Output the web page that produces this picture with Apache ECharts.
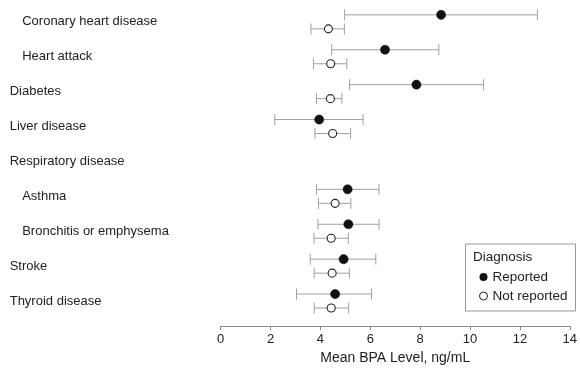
<!DOCTYPE html>
<html>
<head>
<meta charset="utf-8">
<script src="https://cdn.jsdelivr.net/npm/echarts@6/dist/echarts.min.js"></script>
<style>
  html, body { margin: 0; padding: 0; background: #fff; }
  #bpa-chart { width: 580px; height: 370px; }
</style>
</head>
<body>
<div id="bpa-chart"></div>
<script>
// Categories (top to bottom) and whether the label is indented as a sub-item
const categories = ['Coronary heart disease', 'Heart attack', 'Diabetes', 'Liver disease',
    'Respiratory disease', 'Asthma', 'Bronchitis or emphysema', 'Stroke', 'Thyroid disease'];
const indented = [true, true, false, false, false, true, true, false, false];

// Mean BPA level with 95% CI, diagnosis reported
const reportedMean = [8.84, 6.59, 7.85, 3.95, null, 5.09, 5.12, 4.93, 4.59];
const reportedLow  = [4.97, 4.45, 5.17, 2.17, null, 3.84, 3.90, 3.59, 3.04];
const reportedHigh = [12.70, 8.75, 10.54, 5.71, null, 6.35, 6.35, 6.22, 6.05];

// Mean BPA level with 95% CI, diagnosis not reported
const notMean = [4.32, 4.41, 4.40, 4.49, null, 4.59, 4.43, 4.47, 4.43];
const notLow  = [3.62, 3.72, 3.84, 3.78, null, 3.92, 3.74, 3.75, 3.75];
const notHigh = [4.96, 5.06, 4.86, 5.21, null, 5.22, 5.12, 5.16, 5.13];

const xTicks = [0, 14, 2]; // min, max, interval

document.addEventListener('DOMContentLoaded', function() {
    const chart = echarts.init(document.getElementById('bpa-chart'));
    const font = "'Liberation Sans', Arial, Helvetica, sans-serif";

    function buildData(mean, low, high) {
        const out = [];
        mean.forEach((m, i) => {
            if (m === null) return;
            out.push([i, m, low[i], high[i]]);
        });
        return out;
    }

    // draws a dot with a horizontal CI bar, shifted up or down from the row centre
    function makeRender(dy, filled) {
        return function(params, api) {
            const cat = api.value(0);
            const c = api.coord([api.value(1), cat]);
            const lo = api.coord([api.value(2), cat]);
            const hi = api.coord([api.value(3), cat]);
            const y = c[1] + dy;
            const barStyle = { stroke: '#a0a0a0', lineWidth: 1 };
            return {
                type: 'group',
                children: [
                    { type: 'line', shape: { x1: lo[0], y1: y, x2: hi[0], y2: y }, style: barStyle },
                    { type: 'line', shape: { x1: lo[0], y1: y - 5.5, x2: lo[0], y2: y + 5.5 }, style: barStyle },
                    { type: 'line', shape: { x1: hi[0], y1: y - 5.5, x2: hi[0], y2: y + 5.5 }, style: barStyle },
                    {
                        type: 'circle',
                        shape: { cx: c[0], cy: y, r: filled ? 4.6 : 4 },
                        style: filled
                            ? { fill: '#111', stroke: '#111', lineWidth: 0.5 }
                            : { fill: '#fff', stroke: '#222', lineWidth: 1.1 }
                    }
                ]
            };
        };
    }

    const option = {
        animation: false,
        backgroundColor: '#fff',
        textStyle: { fontFamily: font },
        grid: { left: 220.7, right: 7.3, top: 4.4, bottom: 48.4 },
        xAxis: {
            type: 'value',
            min: xTicks[0],
            max: xTicks[1],
            interval: xTicks[2],
            offset: 7.6,
            name: 'Mean BPA Level, ng/mL',
            nameLocation: 'middle',
            nameGap: 22,
            nameTextStyle: { fontSize: 14, color: '#222', fontFamily: font },
            axisLine: { show: true, lineStyle: { color: '#8a8a8a', width: 1 } },
            axisTick: { show: true, length: 4, lineStyle: { color: '#8a8a8a' } },
            axisLabel: { fontSize: 13, color: '#222', margin: 7, fontFamily: font },
            splitLine: { show: false }
        },
        yAxis: {
            type: 'category',
            data: categories,
            inverse: true,
            axisLine: { show: false },
            axisTick: { show: false },
            axisLabel: {
                align: 'left',
                margin: 211,
                fontSize: 13,
                color: '#222',
                fontFamily: font,
                formatter: function(value, idx) {
                    return indented[idx] ? '{sub|' + value + '}' : '{top|' + value + '}';
                },
                rich: {
                    sub: { fontSize: 13, color: '#222', fontFamily: font, padding: [0, 0, 0, 12.5] },
                    top: { fontSize: 13, color: '#222', fontFamily: font }
                }
            },
            splitLine: { show: false }
        },
        legend: {
            orient: 'vertical',
            left: 474,
            top: 265,
            itemWidth: 8,
            itemHeight: 8,
            itemGap: 5,
            textStyle: { fontSize: 13.5, color: '#222', fontFamily: font },
            data: [
                { name: 'Reported', icon: 'circle', itemStyle: { color: '#111', borderWidth: 0 } },
                { name: 'Not reported', icon: 'circle', itemStyle: { color: '#fff', borderColor: '#222', borderWidth: 1 } }
            ]
        },
        graphic: [
            {
                type: 'rect',
                left: 463,
                top: 241.5,
                shape: { width: 110, height: 67 },
                style: { fill: 'none', stroke: '#999', lineWidth: 1 }
            },
            {
                type: 'text',
                left: 473,
                top: 250,
                style: { text: 'Diagnosis', fontSize: 13.5, fill: '#222', fontFamily: font }
            }
        ],
        series: [
            {
                name: 'Reported',
                type: 'custom',
                renderItem: makeRender(-7, true),
                encode: { x: [1, 2, 3], y: 0 },
                data: buildData(reportedMean, reportedLow, reportedHigh),
                z: 3
            },
            {
                name: 'Not reported',
                type: 'custom',
                renderItem: makeRender(7, false),
                encode: { x: [1, 2, 3], y: 0 },
                data: buildData(notMean, notLow, notHigh),
                z: 3
            }
        ]
    };

    chart.setOption(option);
});
</script>
</body>
</html>
